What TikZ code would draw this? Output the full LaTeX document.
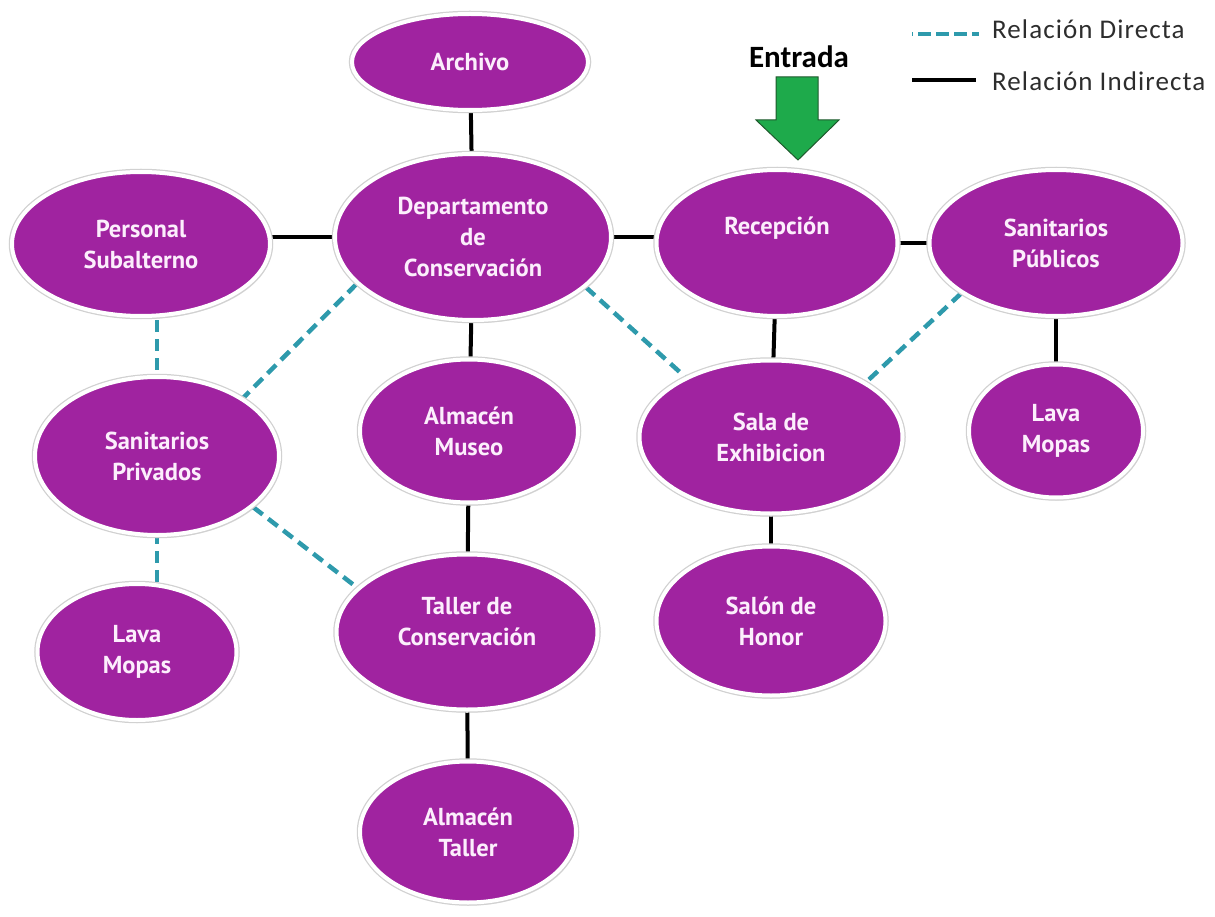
\documentclass[tikz,border=0pt]{standalone}
\usepackage{fontspec}
\newfontfamily\nodefont{PT Sans}
\newfontfamily\legfont{Carlito}
\newfontfamily\legfontsp{Carlito}[LetterSpace=4]
\usetikzlibrary{shapes.geometric,shadows,backgrounds}
\definecolor{purp}{RGB}{160,35,160}
\definecolor{teal2}{RGB}{46,154,172}
\definecolor{grn}{RGB}{30,170,75}
\definecolor{dgrn}{RGB}{30,90,45}
\definecolor{legtxt}{RGB}{45,45,45}
\definecolor{ntxt}{RGB}{252,238,252}
\tikzset{
  room/.style args={#1x#2}{ellipse, minimum width=#1pt-4pt, minimum height=#2pt-4pt,
    inner sep=0pt, fill=purp, draw=white, line width=4pt,
    drop shadow={shadow xshift=2pt, shadow yshift=-3pt, opacity=0.12, fill=black},
    preaction={draw=black!18, line width=6.5pt},
    text=ntxt, align=center,
    font=\nodefont\bfseries\fontsize{24.5}{31}\selectfont},
  indirecta/.style={draw=black, line width=4pt},
  directa/.style={draw=teal2, line width=4.5pt, dash pattern=on 12pt off 7pt},
  legtext/.style={font=\legfontsp\fontsize{27}{30}\selectfont, text=legtxt, anchor=west, inner sep=0pt},
}
\begin{document}
\begin{tikzpicture}[x=1pt,y=-1pt]
\useasboundingbox (0,0) rectangle (1215,917);

\node[room=240x100] (arch) at (470,62) {Archivo};
\node[room=280x170] (dep) at (473,237) {Departamento\\de\\Conservación};
\node[room=262x148] (pers) at (141,244) {Personal\\Subalterno};
\node[room=245x150, text depth=34pt] (rec) at (777,243) {Recepción};
\node[room=257x150] (spub) at (1056,243) {Sanitarios\\Públicos};
\node[room=248x162] (spriv) at (157,456) {Sanitarios\\Privados};
\node[room=222x147] (amus) at (469,431) {Almacén\\Museo};
\node[room=267x157] (sala) at (771,437) {Sala de\\Exhibicion};
\node[room=178x137] (lmr) at (1056,431) {Lava\\Mopas};
\node[room=203x140] (lml) at (137,652) {Lava\\Mopas};
\node[room=265x159, text depth=22pt] (tall) at (467,632) {Taller de\\Conservación};
\node[room=233x153] (salon) at (771,621) {Salón de\\Honor};
\node[room=220x145] (atal) at (468,832) {Almacén\\Taller};

\begin{scope}[on background layer]
  \draw[indirecta] (arch.center) -- (dep.center);
  \draw[indirecta] (pers.center |- dep.center) -- (dep.center);
  \draw[indirecta] (dep.center) -- (dep.center -| rec.center);
  \draw[indirecta] (rec.center) -- (spub.center);
  \draw[indirecta] (dep.center) -- (amus.center);
  \draw[indirecta] (amus.center) -- (tall.center);
  \draw[indirecta] (tall.center) -- (atal.center);
  \draw[indirecta] (rec.center) -- (sala.center);
  \draw[indirecta] (sala.center) -- (salon.center);
  \draw[indirecta] (spub.center) -- (lmr.center);
  \draw[directa] (pers.center -| spriv.center) -- (spriv.center);
  \draw[directa] (spriv.center) -- (spriv.center |- lml.center);
  \draw[directa] (dep.202) -- (spriv.34);
  \draw[directa] (dep.336) -- (sala.145);
  \draw[directa] (spub.208) -- (sala.30);
  \draw[directa] (spriv.332) -- (tall.158);
\end{scope}

% entrance
\node[font=\legfont\bfseries\fontsize{31}{34}\selectfont, text=black, inner sep=0pt] (ent) at (799,57) {Entrada};
\draw[fill=grn, draw=dgrn, line width=1pt, line join=miter]
  (776,77) -- (818,77) -- (818,120) -- (839,120) -- (798,160) -- (756,120) -- (776,120) -- cycle;

% legend
\coordinate (l1a) at (912,34);
\coordinate (l1b) at (979,34);
\coordinate (l2a) at (912,80);
\coordinate (l2b) at (976,80);
\draw[directa, dash pattern=on 13pt off 5pt, dash phase=-6pt] (l1a) -- (l1b);
\draw[indirecta] (l2a) -- (l2b);
\node[legtext] (t1) at (992,29) {Relación Directa};
\node[legtext] (t2) at (992,81) {Relación Indirecta};
\end{tikzpicture}
\end{document}
